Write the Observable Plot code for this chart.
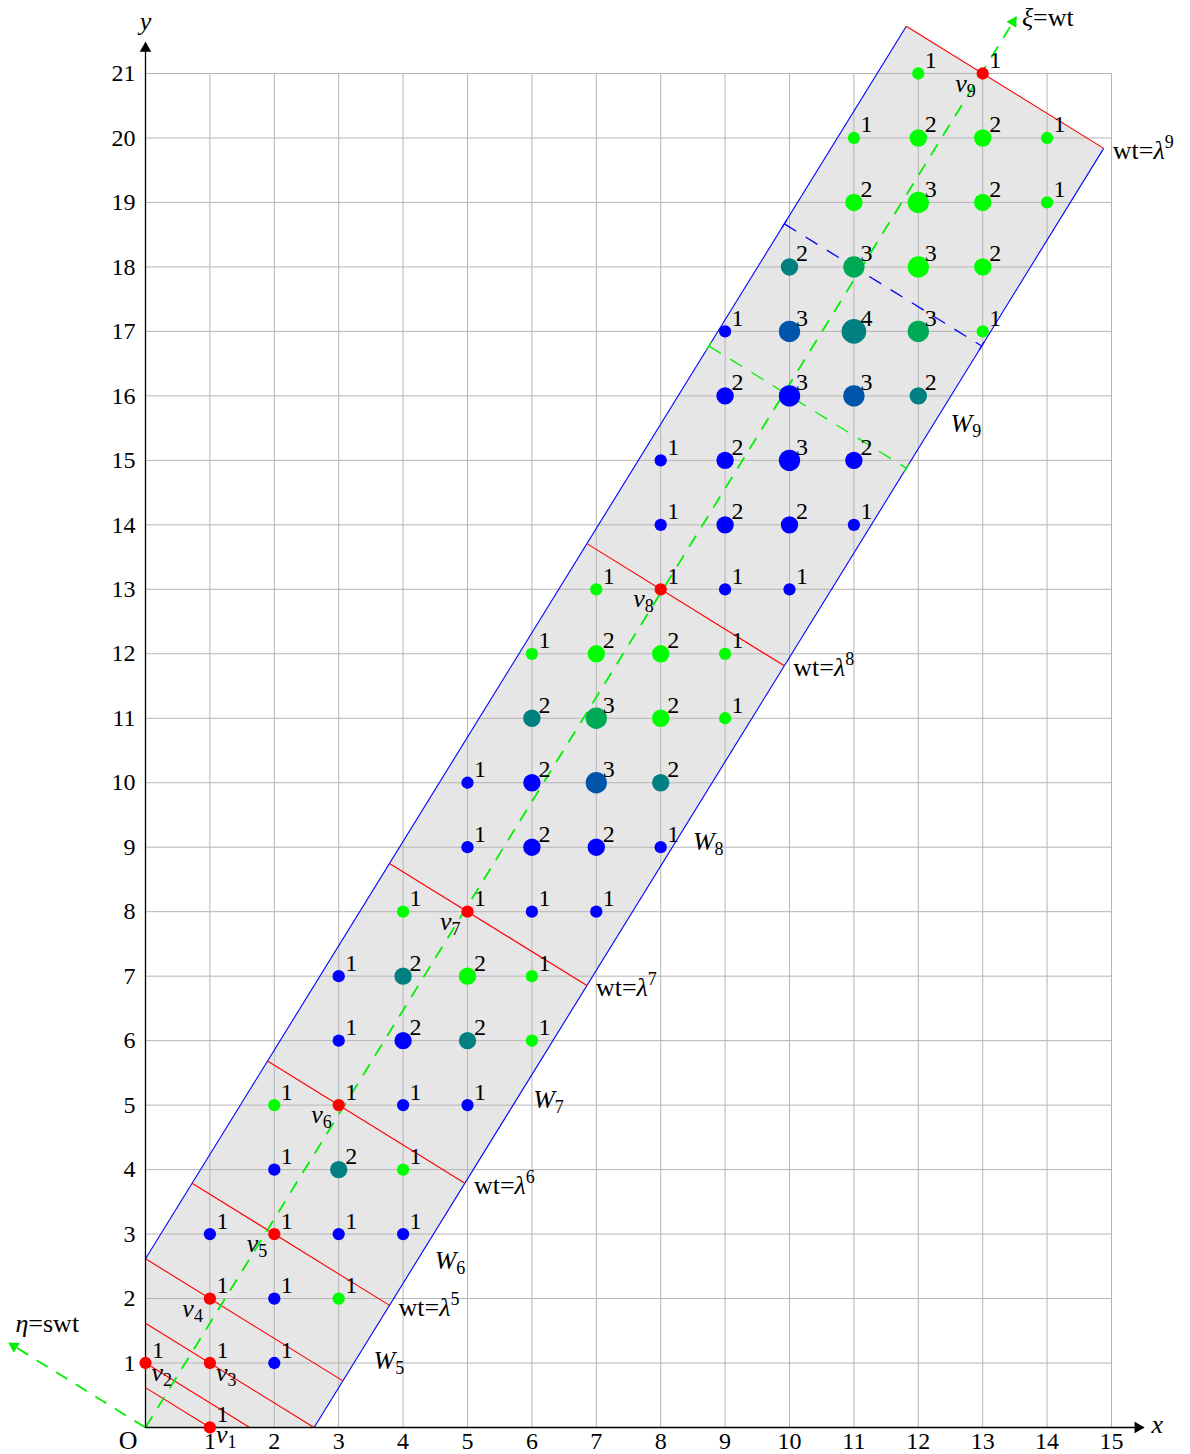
<!DOCTYPE html>
<html>
<head>
<meta charset="utf-8">
<script src="https://cdn.jsdelivr.net/npm/d3@7"></script>
<script src="https://cdn.jsdelivr.net/npm/@observablehq/plot@0.6"></script>
<style>
  html, body { margin: 0; padding: 0; background: #fff; }
  #chart svg { display: block; }
</style>
</head>
<body>
<div id="chart"></div>
<script>
const PHI = (1 + Math.sqrt(5)) / 2;

// ---- data ----
// tick labels
const xTicks = d3.range(1, 16);
const yTicks = d3.range(1, 22);

// the red points v1..v9
const vX = [1, 0, 1, 1, 2, 3, 5, 8, 13];
const vY = [0, 1, 1, 2, 3, 5, 8, 13, 21];
const vName = ["v_1", "v_2", "v_3", "v_4", "v_5", "v_6", "v_7", "v_8", "v_9"];
const vSide = ["right", "right", "right", "left", "left", "left", "left", "left", "left"];

// weighted lattice points (blue / green multiplicities)
const ptX = [2, 2,3, 1,3,4, 2,3,4, 2,4,5, 3,4,5,6, 3,4,5,6, 4,6,7, 5,6,7,8, 5,6,7,8, 6,7,8,9, 6,7,8,9, 7,9,10, 8,9,10,11, 8,9,10,11, 9,10,11,12, 9,10,11,12,13, 10,11,12,13, 11,12,13,14, 11,12,13,14, 12];
const ptY = [1, 2,2, 3,3,3, 4,4,4, 5,5,5, 6,6,6,6, 7,7,7,7, 8,8,8, 9,9,9,9, 10,10,10,10, 11,11,11,11, 12,12,12,12, 13,13,13, 14,14,14,14, 15,15,15,15, 16,16,16,16, 17,17,17,17,17, 18,18,18,18, 19,19,19,19, 20,20,20,20, 21];
const ptBlue = [1, 1,0, 1,1,1, 1,1,0, 0,1,1, 1,2,1,0, 1,1,0,0, 0,1,1, 1,2,2,1, 1,2,2,1, 1,1,0,0, 0,0,0,0, 0,1,1, 1,2,2,1, 1,2,3,2, 2,3,2,1, 1,2,2,1,0, 1,1,0,0, 0,0,0,0, 0,0,0,0, 0];
const ptGreen = [0, 0,1, 0,0,0, 0,1,1, 1,0,0, 0,0,1,1, 0,1,2,1, 1,0,0, 0,0,0,0, 0,0,1,1, 1,2,2,1, 1,2,2,1, 1,0,0, 0,0,0,0, 0,0,0,0, 0,0,1,1, 0,1,2,2,1, 1,2,3,2, 2,3,2,1, 1,2,2,1, 1];

// strip W: stripLower <= y - PHI*x <= stripUpper
const stripUpper = PHI * PHI;
const stripLower = -(PHI * PHI * PHI);

// weight levels wt = lambda^n drawn through v5..v9
const levelIndex = [4, 5, 6, 7, 8];
const levelText = ["wt=λ^5", "wt=λ^6", "wt=λ^7", "wt=λ^8", "wt=λ^9"];

// window names
const wText = ["W_5", "W_6", "W_7", "W_8", "W_9"];
const wX = [3.54, 4.49, 6.02, 8.50, 12.5];
const wY = [0.915, 2.46, 4.95, 8.95, 15.44];

// dashed cross-sections through these lattice points
const crossX = [10, 11];
const crossY = [16, 18];
const crossColor = ["green", "blue"];

// axes extents
const xAxisEnd = 15.5, yAxisEnd = 21.48;
const xiEnd = 13.52, etaEnd = 1.31;

// ---- derived geometry ----
const K = PHI + 1 / PHI;
function segment(px, py, clip = true) {
  const c = py - PHI * px;
  let s0 = (c - stripUpper) / K, s1 = (c - stripLower) / K;
  if (clip) { s0 = Math.max(s0, -px); s1 = Math.min(s1, PHI * py); }
  return {x1: px + s0, y1: py - s0 / PHI, x2: px + s1, y2: py - s1 / PHI};
}
const redSegs = vX.map((x, i) => segment(x, vY[i]));
const topSeg = redSegs[8];
const stripPoly = [
  {x: 0, y: 0}, {x: -stripLower / PHI, y: 0},
  {x: topSeg.x2, y: topSeg.y2}, {x: topSeg.x1, y: topSeg.y1}, {x: 0, y: stripUpper}
];
const boundaries = [
  {x1: 0, y1: stripUpper, x2: topSeg.x1, y2: topSeg.y1},
  {x1: -stripLower / PHI, y1: 0, x2: topSeg.x2, y2: topSeg.y2}
];
const crossSegs = crossX.map((x, i) => ({...segment(x, crossY[i], false), color: crossColor[i]}));
const crossTicks = [];
const ux = 1 / Math.sqrt(1 + PHI * PHI), uy = PHI / Math.sqrt(1 + PHI * PHI);
const tl = 0.075;
for (const s of crossSegs) {
  for (const [x, y] of [[s.x1, s.y1], [s.x2, s.y2]]) {
    crossTicks.push({x1: x - tl * ux, y1: y - tl * uy, x2: x + tl * ux, y2: y + tl * uy, color: s.color});
  }
}

const dashAxes = [
  {x1: 0, y1: 0, x2: xiEnd, y2: xiEnd * PHI},
  {x1: 0, y1: 0, x2: -etaEnd * PHI, y2: etaEnd}
];
const blackAxes = [
  {x1: 0, y1: 0, x2: xAxisEnd, y2: 0},
  {x1: 0, y1: 0, x2: 0, y2: yAxisEnd}
];
const back = 0.09;
const heads = [
  {x: xAxisEnd - back, y: 0, a: 90, c: "black"},
  {x: 0, y: yAxisEnd - back, a: 0, c: "black"},
  {x: xiEnd - back * ux, y: xiEnd * PHI - back * uy, a: Math.atan(1 / PHI) * 180 / Math.PI, c: "green"},
  {x: -etaEnd * PHI + back * uy, y: etaEnd - back * ux, a: -Math.atan(PHI) * 180 / Math.PI, c: "green"}
];

const points = ptX.map((x, i) => {
  const b = ptBlue[i], g = ptGreen[i], n = b + g;
  return {x, y: ptY[i], n, color: `rgb(0,${Math.round(255 * g / n)},${Math.round(255 * b / n)})`};
});
const vPoints = vX.map((x, i) => ({x, y: vY[i], n: 1, name: vName[i], side: vSide[i]}));

const levelLabels = levelIndex.map((k, i) => ({x: redSegs[k].x2, y: redSegs[k].y2, text: levelText[i]}));
const wLabels = wText.map((t, i) => ({x: wX[i], y: wY[i], text: t}));
const startLabels = [
  {x: xiEnd + 0.09, y: 21.73, text: "ξ=wt"},
  {x: -2.02, y: 1.48, text: "η=swt"},
  {x: 15.62, y: -0.08, text: "x"}
];
const middleLabels = [
  {x: 0, y: 21.68, text: "y"},
  {x: -0.27, y: -0.33, text: "O"}
];

const FONT = "'Liberation Serif', 'DejaVu Serif', serif";
const GREEN = "#00f000";
const MATH = 26;

const chart = Plot.plot({
  width: 1190,
  height: 1454,
  marginLeft: 145,
  marginRight: 79,
  marginTop: 73,
  marginBottom: 27,
  x: {domain: [0, 15], axis: null},
  y: {domain: [0, 21], axis: null},
  r: {type: "sqrt", domain: [0, 4], range: [0, 12.3]},
  style: {fontFamily: FONT, fontSize: "24px", background: "white", color: "black"},
  marks: [
    Plot.line(stripPoly, {x: "x", y: "y", fill: "#e6e6e6", stroke: "none", curve: "linear-closed"}),
    Plot.gridX(d3.range(0, 16), {stroke: "#b5b5b5", strokeOpacity: 1, strokeWidth: 1}),
    Plot.gridY(d3.range(0, 22), {stroke: "#b5b5b5", strokeOpacity: 1, strokeWidth: 1}),
    Plot.link(boundaries, {x1: "x1", y1: "y1", x2: "x2", y2: "y2", stroke: "blue", strokeWidth: 1.1}),
    Plot.link(redSegs, {x1: "x1", y1: "y1", x2: "x2", y2: "y2", stroke: "red", strokeWidth: 1.1}),
    Plot.link(crossSegs, {x1: "x1", y1: "y1", x2: "x2", y2: "y2", stroke: d => d.color === "blue" ? "blue" : GREEN, strokeWidth: 1.3, strokeDasharray: "14,11"}),
    Plot.link(crossTicks, {x1: "x1", y1: "y1", x2: "x2", y2: "y2", stroke: d => d.color === "blue" ? "blue" : GREEN, strokeWidth: 1.3}),
    Plot.link(dashAxes, {x1: "x1", y1: "y1", x2: "x2", y2: "y2", stroke: GREEN, strokeWidth: 1.8, strokeDasharray: "13,10"}),
    Plot.link(blackAxes, {x1: "x1", y1: "y1", x2: "x2", y2: "y2", stroke: "black", strokeWidth: 1.3}),
    Plot.dot(heads, {x: "x", y: "y", symbol: "triangle", r: 4.3, rotate: "a", fill: d => d.c === "black" ? "black" : GREEN, stroke: "none"}),
    Plot.dot(points, {x: "x", y: "y", r: "n", fill: "color", stroke: "none"}),
    Plot.dot(vPoints, {x: "x", y: "y", r: "n", fill: "red", stroke: "none"}),
    Plot.text([...points, ...vPoints], {x: "x", y: "y", text: d => String(d.n), textAnchor: "start", lineAnchor: "bottom", dx: 6.5, dy: -5.5, fill: "black"}),
    Plot.text(vPoints.filter(d => d.side === "right" && d.y > 0), {x: "x", y: "y", text: "name", textAnchor: "start", lineAnchor: "bottom", dx: 6, dy: 18, fontSize: MATH}),
    Plot.text(vPoints.filter(d => d.side === "right" && d.y === 0), {x: "x", y: "y", text: "name", textAnchor: "start", lineAnchor: "bottom", dx: 6, dy: 15, fontSize: MATH}),
    Plot.text(vPoints.filter(d => d.side === "left"), {x: "x", y: "y", text: "name", textAnchor: "end", lineAnchor: "bottom", dx: -7, dy: 18, fontSize: MATH}),
    Plot.text(levelLabels, {x: "x", y: "y", text: "text", textAnchor: "start", lineAnchor: "bottom", dx: 9, dy: 10.5, fontSize: MATH}),
    Plot.text(wLabels, {x: "x", y: "y", text: "text", textAnchor: "start", lineAnchor: "bottom", fontSize: MATH}),
    Plot.text(startLabels, {x: "x", y: "y", text: "text", textAnchor: "start", lineAnchor: "bottom", fontSize: MATH}),
    Plot.text(middleLabels, {x: "x", y: "y", text: "text", textAnchor: "middle", lineAnchor: "bottom", fontSize: MATH}),
    Plot.axisX(xTicks, {tickSize: 0, tickPadding: 4, label: null, tickFormat: d => String(d), fontSize: 24}),
    Plot.axisY(yTicks, {tickSize: 0, tickPadding: 10, label: null, tickFormat: d => String(d), fontSize: 24})
  ]
});

// typeset simple math: italic letters, _ subscript, ^ superscript
const SVGNS = "http://www.w3.org/2000/svg";
const ITALIC = new Set(["v", "W", "λ", "η", "ξ", "x", "y"]);
function typeset(el) {
  const s = el.textContent;
  el.textContent = "";
  let shift = 0;
  const add = (str, italic, level) => {
    const t = document.createElementNS(SVGNS, "tspan");
    t.textContent = str;
    if (italic) t.setAttribute("font-style", "italic");
    const target = level === 1 ? 5 : level === -1 ? -11 : 0;
    if (target !== shift) { t.setAttribute("dy", target - shift); shift = target; }
    if (level) t.setAttribute("font-size", "18");
    el.appendChild(t);
  };
  for (let i = 0; i < s.length; i++) {
    const c = s[i];
    if (c === "_" || c === "^") { add(s[i + 1], false, c === "_" ? 1 : -1); i++; }
    else add(c, ITALIC.has(c), 0);
  }
}
chart.querySelectorAll("text").forEach(el => {
  if (el.children.length === 0 && /[A-Za-zλξη_^]/.test(el.textContent) && el.textContent !== "O") typeset(el);
});

document.getElementById("chart").appendChild(chart);
</script>
</body>
</html>
